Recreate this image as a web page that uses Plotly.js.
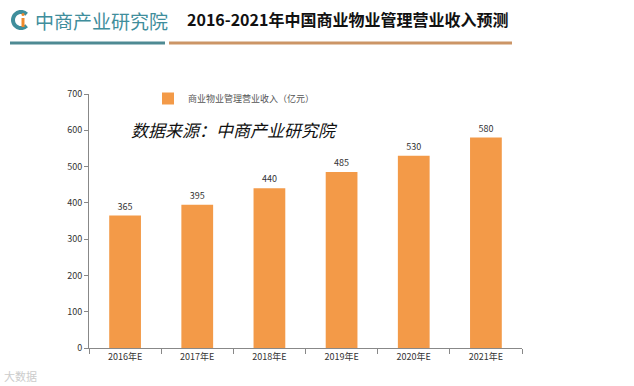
<!DOCTYPE html>
<html><head><meta charset="utf-8">
<script src="https://cdn.plot.ly/plotly-3.0.1.min.js"></script>
<style>html,body{margin:0;padding:0;background:#fff}#c{width:634px;height:386px}</style>
</head><body><div id="c"></div>
<script>
const categories = ["2016年E","2017年E","2018年E","2019年E","2020年E","2021年E"];
const revenue = [365,395,440,485,530,580];
const seriesName = "商业物业管理营业收入（亿元）";
const yTicks = [0,100,200,300,400,500,600,700];

const L=89,R=112,T=94,B=38,W=634-L-R,H=386-T-B;
const px = x => (x-L)/W, py = y => (386-B-y)/H;
const font = "'Microsoft YaHei','Noto Sans CJK SC',sans-serif";

// logo "C" arc path in pixel -> paper coordinates
function arcPath(cx,cy,r,a0,a1,n){
  let d='';
  for(let i=0;i<=n;i++){
    const a=(a0+(a1-a0)*i/n)*Math.PI/180;
    const x=px(cx+r*Math.cos(a)), y=py(cy-r*Math.sin(a));
    d+=(i?'L':'M')+x+','+y;
  }
  return d;
}

Plotly.newPlot('c',[{
  type:'bar', x:categories, y:revenue, name:seriesName,
  marker:{color:'#F39A48'}, width:0.44,
  text:revenue.map(String), textposition:'outside', cliponaxis:false,
  textfont:{size:9,color:'#333',family:font}
}],{
  width:634,height:386,margin:{l:L,r:R,t:T,b:B},
  paper_bgcolor:'#fff',plot_bgcolor:'#fff',
  showlegend:true,
  legend:{x:px(148),y:py(84),xanchor:'left',yanchor:'top',font:{size:9,color:'#555',family:font},bgcolor:'rgba(0,0,0,0)'},
  xaxis:{type:'category',showline:true,linecolor:'#888',ticks:'outside',ticklen:5,tickcolor:'#888',tickson:'boundaries',
    tickfont:{size:9,color:'#333',family:font},showgrid:false,zeroline:false},
  yaxis:{range:[0,700],tickvals:yTicks,showline:true,linecolor:'#888',ticks:'outside',ticklen:4,tickcolor:'#888',
    tickfont:{size:9,color:'#333',family:font},showgrid:false,zeroline:false},
  shapes:[
    {type:'line',xref:'paper',yref:'paper',x0:px(10),x1:px(165),y0:py(43),y1:py(43),line:{color:'#4E8A93',width:3}},
    {type:'line',xref:'paper',yref:'paper',x0:px(169),x1:px(512),y0:py(43),y1:py(43),line:{color:'#CC9566',width:3}},
    {type:'path',xref:'paper',yref:'paper',path:arcPath(21,20,8,45,315,30),line:{color:'#3F8E9C',width:4}},
    {type:'line',xref:'paper',yref:'paper',x0:px(23),x1:px(23),y0:py(18),y1:py(27),line:{color:'#F08A2C',width:3}},
    {type:'circle',xref:'paper',yref:'paper',x0:px(21.5),x1:px(24.5),y0:py(13),y1:py(16),fillcolor:'#F08A2C',line:{width:0}}
  ],
  annotations:[
    {xref:'paper',yref:'paper',x:px(33),y:py(20),xanchor:'left',yanchor:'middle',showarrow:false,
     text:"中商产业研究院",font:{size:19,color:'#3F8E9C',family:font}},
    {xref:'paper',yref:'paper',x:px(510),y:py(19),xanchor:'right',yanchor:'middle',showarrow:false,
     text:"<b>2016-2021年中国商业物业管理营业收入预测</b>",font:{size:16,color:'#111',family:font}},
    {xref:'paper',yref:'paper',x:px(129),y:py(129),xanchor:'left',yanchor:'middle',showarrow:false,
     text:"<i>数据来源：中商产业研究院</i>",font:{size:17,color:'#111',family:font}},
    {xref:'paper',yref:'paper',x:px(2),y:py(376),xanchor:'left',yanchor:'middle',showarrow:false,
     text:"大数据",font:{size:11,color:'#ccc',family:font}}
  ]
},{displayModeBar:false,staticPlot:true});
</script></body></html>
